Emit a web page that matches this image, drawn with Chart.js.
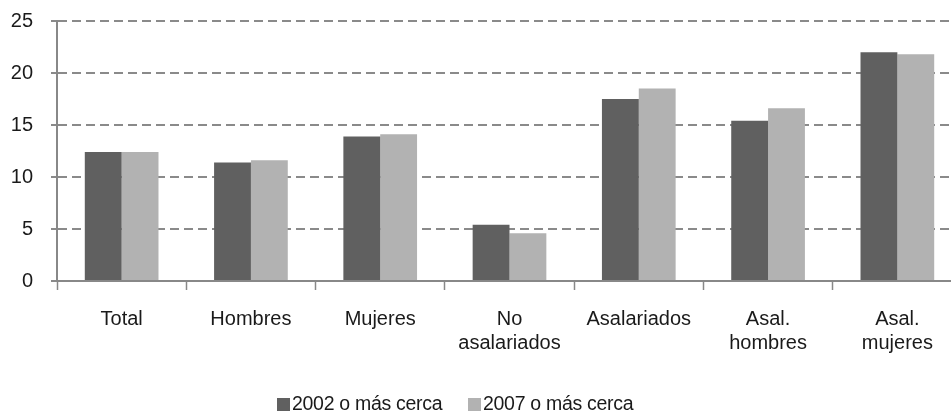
<!DOCTYPE html>
<html>
<head>
<meta charset="utf-8">
<script src="https://cdn.jsdelivr.net/npm/chart.js@4"></script>
<style>
    html, body { margin: 0; padding: 0; overflow: hidden; background: #fff; }
    #wrap { position: relative; width: 951px; height: 412px; overflow: hidden; }
    #chart { position: absolute; left: 0; top: 0; }
    .legend { position: absolute; top: 392px; font: 19.5px "Liberation Sans", Arial, sans-serif; color: #1a1a1a; white-space: nowrap; letter-spacing: -0.3px; }
    .legend span.box { display: inline-block; width: 13px; height: 13px; margin-right: 2px; vertical-align: -1px; }
</style>
</head>
<body>
<div id="wrap">
    <canvas id="chart" width="966" height="412"></canvas>
    <div class="legend" style="left:277px"><span class="box" style="background:#606060"></span>2002 o más cerca</div>
    <div class="legend" style="left:468px"><span class="box" style="background:#b2b2b2"></span>2007 o más cerca</div>
</div>
<script>
    const categories = ['Total', 'Hombres', 'Mujeres', ['No', 'asalariados'], 'Asalariados', ['Asal.', 'hombres'], ['Asal.', 'mujeres']];
    const series2002 = [12.4, 11.4, 13.9, 5.4, 17.5, 15.4, 22.0];
    const series2007 = [12.4, 11.6, 14.1, 4.6, 18.5, 16.6, 21.8];
    const yTicks = [0, 5, 10, 15, 20, 25];

    const font = { family: '"Liberation Sans", Arial, sans-serif', size: 20 };

    new Chart(document.getElementById('chart').getContext('2d'), {
        type: 'bar',
        data: {
            labels: categories,
            datasets: [
                {
                    label: '2002 o más cerca',
                    data: series2002,
                    backgroundColor: '#606060',
                    categoryPercentage: 0.57,
                    barPercentage: 1
                },
                {
                    label: '2007 o más cerca',
                    data: series2007,
                    backgroundColor: '#b2b2b2',
                    categoryPercentage: 0.57,
                    barPercentage: 1
                }
            ]
        },
        options: {
            responsive: false,
            animation: false,
            layout: { padding: { top: 21, right: 4, left: 0, bottom: 0 } },
            plugins: {
                legend: { display: false },
                tooltip: { enabled: false }
            },
            scales: {
                x: {
                    afterFit: (scale) => { scale.height = 131; },
                    grid: {
                        display: true,
                        drawOnChartArea: false,
                        drawTicks: true,
                        offset: true,
                        tickLength: 9,
                        tickColor: '#888888',
                        tickWidth: 1.5
                    },
                    border: { color: '#888888', width: 2 },
                    ticks: {
                        color: '#1a1a1a',
                        font: font,
                        padding: 17,
                        maxRotation: 0,
                        autoSkip: false
                    }
                },
                y: {
                    min: 0,
                    max: 25,
                    afterFit: (scale) => {
                        scale.width = 57;
                        scale.paddingTop = 0;
                        scale.paddingBottom = 0;
                    },
                    afterBuildTicks: (scale) => { scale.ticks = yTicks.map(v => ({ value: v })); },
                    grid: {
                        color: '#8a8a8a',
                        lineWidth: 2,
                        tickLength: 6,
                        tickColor: '#8a8a8a'
                    },
                    border: { color: '#888888', width: 2, dash: [9, 5] },
                    ticks: {
                        color: '#1a1a1a',
                        font: font,
                        padding: 18
                    }
                }
            }
        }
    });
</script>
</body>
</html>
